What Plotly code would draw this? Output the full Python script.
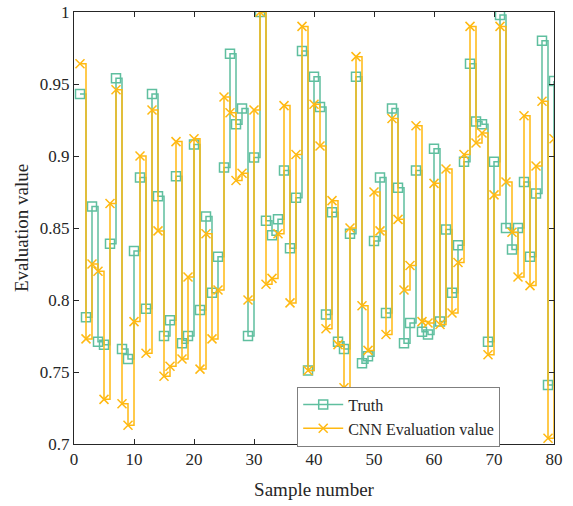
import plotly.graph_objects as go

samples = list(range(1, 81))
truth = [0.943, 0.788, 0.865, 0.771, 0.769, 0.839, 0.954, 0.766, 0.759, 0.834,
         0.885, 0.794, 0.943, 0.872, 0.775, 0.786, 0.886, 0.770, 0.775, 0.908,
         0.793, 0.858, 0.805, 0.830, 0.892, 0.971, 0.922, 0.933, 0.775, 0.899,
         1.000, 0.855, 0.845, 0.856, 0.890, 0.836, 0.871, 0.973, 0.751, 0.955,
         0.934, 0.790, 0.861, 0.771, 0.766, 0.846, 0.955, 0.756, 0.761, 0.841,
         0.885, 0.791, 0.933, 0.878, 0.770, 0.784, 0.890, 0.778, 0.776, 0.905,
         0.785, 0.849, 0.805, 0.838, 0.896, 0.964, 0.924, 0.922, 0.771, 0.896,
         0.998, 0.850, 0.835, 0.850, 0.882, 0.830, 0.874, 0.980, 0.741, 0.952]
cnn = [0.964, 0.773, 0.825, 0.820, 0.731, 0.867, 0.946, 0.728, 0.713, 0.785,
       0.900, 0.763, 0.932, 0.848, 0.747, 0.754, 0.910, 0.759, 0.816, 0.912,
       0.752, 0.846, 0.773, 0.807, 0.941, 0.930, 0.883, 0.888, 0.800, 0.932,
       1.000, 0.811, 0.815, 0.846, 0.935, 0.798, 0.901, 0.990, 0.751, 0.936,
       0.907, 0.780, 0.869, 0.769, 0.739, 0.850, 0.969, 0.796, 0.765, 0.875,
       0.848, 0.776, 0.926, 0.856, 0.807, 0.824, 0.921, 0.785, 0.784, 0.881,
       0.783, 0.891, 0.791, 0.826, 0.901, 0.990, 0.909, 0.916, 0.762, 0.873,
       0.990, 0.882, 0.847, 0.816, 0.928, 0.810, 0.893, 0.938, 0.704, 0.912]
x_ticks = [0, 10, 20, 30, 40, 50, 60, 70, 80]
y_ticks = [0.7, 0.75, 0.8, 0.85, 0.9, 0.95, 1]
y_tick_text = ["0.7", "0.75", "0.8", "0.85", "0.9", "0.95", "1"]

teal = "#5fbf9f"
orange = "#ffb912"
dark = "#262626"
font_family = "Liberation Serif, Times New Roman, serif"

fig = go.Figure()
fig.add_trace(go.Scatter(
    x=samples, y=truth, name="Truth", mode="lines+markers",
    line=dict(color=teal, width=1.5, shape="hv"),
    marker=dict(symbol="square-open", size=9, color=teal, line=dict(width=1.5, color=teal)),
))
fig.add_trace(go.Scatter(
    x=samples, y=cnn, name="CNN Evaluation value", mode="lines+markers",
    xaxis="x2", yaxis="y2",
    line=dict(color=orange, width=1.5, shape="hv"),
    marker=dict(symbol="x-thin-open", size=9, color=orange, line=dict(width=1.5, color=orange)),
))

axis_common = dict(
    showline=True, linecolor=dark, linewidth=1,
    ticks="inside", ticklen=5, tickcolor=dark, showgrid=False, zeroline=False,
    automargin=False,
    tickfont=dict(family=font_family, size=17, color=dark),
)

fig.update_layout(
    xaxis=dict(range=[0, 80], tickvals=x_ticks,
               title=dict(text="Sample number", font=dict(family=font_family, size=19, color=dark), standoff=14),
               **axis_common),
    yaxis=dict(range=[0.7, 1], tickvals=y_ticks, ticktext=y_tick_text,
               title=dict(text="Evaluation value", font=dict(family=font_family, size=19, color=dark), standoff=6),
               **axis_common),
    xaxis2=dict(range=[0, 80], tickvals=x_ticks, overlaying="x", side="top",
                showticklabels=False, **axis_common),
    yaxis2=dict(range=[0.7, 1], tickvals=y_ticks, overlaying="y", side="right",
                showticklabels=False, **axis_common),
)

fig.update_layout(
    width=573, height=506,
    margin=dict(l=74, r=19, t=12, b=62),
    plot_bgcolor="white", paper_bgcolor="white",
    font=dict(family=font_family, color=dark),
    legend=dict(x=0.465, y=-0.006, xanchor="left", yanchor="bottom",
                bgcolor="white", bordercolor="#7f7f7f", borderwidth=1,
                font=dict(family=font_family, size=16, color=dark),
                tracegroupgap=0, itemwidth=40),
    showlegend=True,
)

fig.write_html("out.html", config={"displayModeBar": False},
               post_script="document.body.style.margin='0';document.body.style.overflow='hidden';")
